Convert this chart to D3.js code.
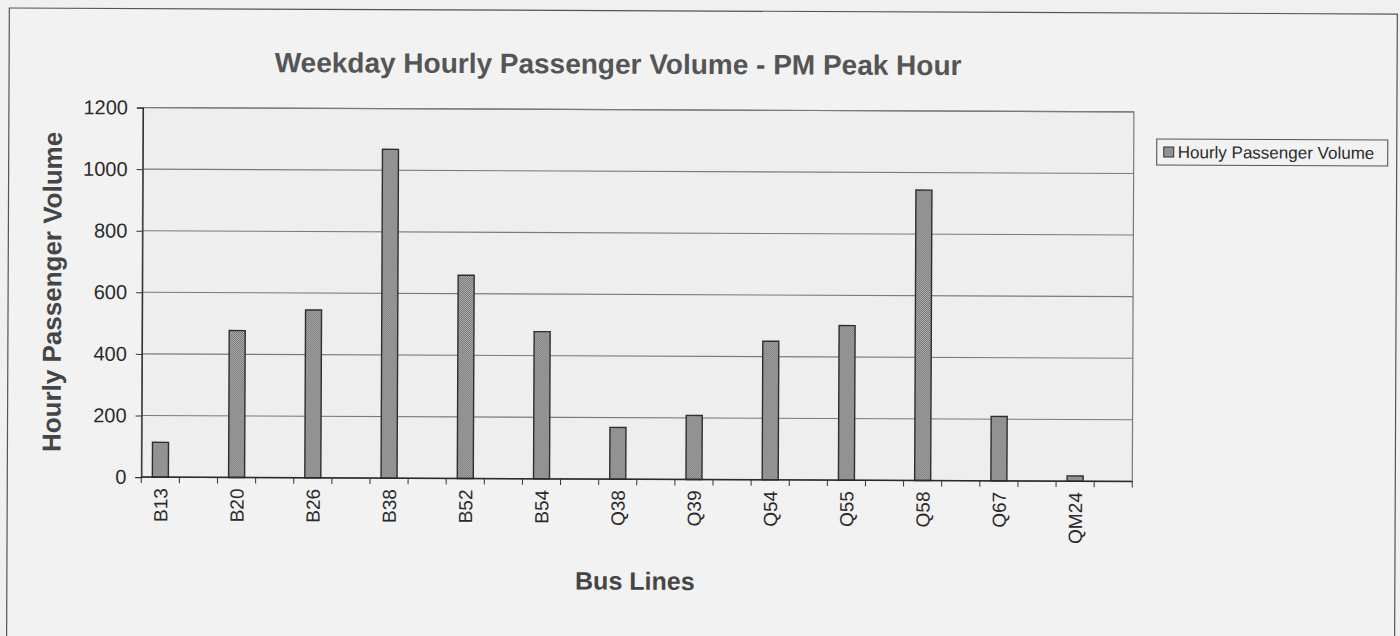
<!DOCTYPE html>
<html>
<head>
<meta charset="utf-8">
<script src="https://cdn.jsdelivr.net/npm/d3@7/dist/d3.min.js"></script>
<style>
  html, body { margin: 0; padding: 0; background: #f0f0f0; }
  svg { display: block; }
  text { font-family: Arial, "Liberation Sans", sans-serif; }
</style>
</head>
<body>
<svg id="chart" width="1400" height="636"></svg>
<script>
// Bus lines and their PM peak hourly passenger volumes
const busLines = ["B13", "B20", "B26", "B38", "B52", "B54", "Q38", "Q39", "Q54", "Q55", "Q58", "Q67", "QM24"];
const volumes = [113, 477, 545, 1068, 660, 478, 168, 208, 450, 502, 943, 209, 17];
const yTicks = [0, 200, 400, 600, 800, 1000, 1200];
const seriesName = "Hourly Passenger Volume";
const chartTitle = "Weekday Hourly Passenger Volume - PM Peak Hour";
const xTitle = "Bus Lines";
const yTitle = "Hourly Passenger Volume";

const svg = d3.select("#chart");
const plot = { left: 142, right: 1133, top: 110, bottom: 479.5 };

// slight page tilt of the printed sheet
const root = svg.append("g").attr("transform", "rotate(0.25, 700, 318)");

// halftone-like fill for the bars
const defs = svg.append("defs");
const pat = defs.append("pattern").attr("id", "dots")
  .attr("width", 2).attr("height", 2).attr("patternUnits", "userSpaceOnUse");
pat.append("rect").attr("width", 2).attr("height", 2).attr("fill", "#b0b0b0");
pat.append("rect").attr("width", 1).attr("height", 1).attr("fill", "#747474");
pat.append("rect").attr("x", 1).attr("y", 1).attr("width", 1).attr("height", 1).attr("fill", "#747474");

// outer chart frame
root.append("rect")
  .attr("x", 8).attr("y", 11).attr("width", 1388).attr("height", 640)
  .attr("fill", "#f2f2f2").attr("stroke", "#555").attr("stroke-width", 1.2);

// every line sits in its own slot with a blank slot after it
const slots = [];
busLines.forEach((b, i) => { slots.push(b); slots.push("gap" + i); });

const x = d3.scaleBand().domain(slots)
  .range([plot.left, plot.right]).paddingInner(0.58).paddingOuter(0.29);
const y = d3.scaleLinear().domain([0, 1200]).range([plot.bottom, plot.top]);

// plot area
root.append("rect")
  .attr("x", plot.left).attr("y", plot.top)
  .attr("width", plot.right - plot.left).attr("height", plot.bottom - plot.top)
  .attr("fill", "#eeeeee").attr("stroke", "#7a7a7a").attr("stroke-width", 1.2);

// horizontal gridlines
root.append("g").selectAll("line").data(yTicks.filter(t => t > 0)).join("line")
  .attr("x1", plot.left).attr("x2", plot.right)
  .attr("y1", d => y(d)).attr("y2", d => y(d))
  .attr("stroke", "#7a7a7a").attr("stroke-width", 1.1);

// y axis
const yAxis = root.append("g").attr("transform", `translate(${plot.left},0)`)
  .call(d3.axisLeft(y).tickValues(yTicks).tickSize(6).tickPadding(9).tickFormat(d3.format("d")));
yAxis.select(".domain").attr("stroke", "#333").attr("stroke-width", 1.3);
yAxis.selectAll(".tick line").attr("stroke", "#333");
yAxis.selectAll("text").attr("fill", "#2a2a2a").style("font-size", "20px");

// bars
root.append("g").selectAll("rect").data(busLines).join("rect")
  .attr("x", d => x(d))
  .attr("width", x.bandwidth())
  .attr("y", (d, i) => y(volumes[i]))
  .attr("height", (d, i) => y(0) - y(volumes[i]))
  .attr("fill", "url(#dots)")
  .attr("stroke", "#2e2e2e").attr("stroke-width", 1.4);

// x axis: baseline with ticks on slot boundaries
const step = x.step();
const boundaries = d3.range(slots.length + 1).map(k => plot.left + k * step);
root.append("line")
  .attr("x1", plot.left).attr("x2", plot.right)
  .attr("y1", y(0)).attr("y2", y(0))
  .attr("stroke", "#2a2a2a").attr("stroke-width", 1.5);
root.append("g").selectAll("line").data(boundaries).join("line")
  .attr("x1", d => d).attr("x2", d => d)
  .attr("y1", y(0)).attr("y2", y(0) + 6)
  .attr("stroke", "#333").attr("stroke-width", 1);

// category labels, rotated
root.append("g").selectAll("text").data(busLines).join("text")
  .attr("transform", d => `translate(${x(d) + x.bandwidth() / 2 + 7},${y(0) + 11}) rotate(-90)`)
  .attr("text-anchor", "end")
  .attr("fill", "#2a2a2a")
  .style("font-size", "19px")
  .text(d => d);

// titles
root.append("text")
  .attr("x", 617).attr("y", 74)
  .attr("text-anchor", "middle")
  .attr("fill", "#555")
  .style("font-size", "28px").style("font-weight", "bold")
  .text(chartTitle);

root.append("text")
  .attr("x", 636).attr("y", 590)
  .attr("text-anchor", "middle")
  .attr("fill", "#454545")
  .style("font-size", "25px").style("font-weight", "bold")
  .text(xTitle);

root.append("text")
  .attr("transform", `translate(61,${(plot.top + plot.bottom) / 2}) rotate(-90)`)
  .attr("text-anchor", "middle")
  .attr("fill", "#454545")
  .style("font-size", "26px").style("font-weight", "bold")
  .text(yTitle);

// legend
const lg = root.append("g").attr("transform", "translate(1156,137)");
lg.append("rect").attr("width", 231).attr("height", 26)
  .attr("fill", "#f2f2f2").attr("stroke", "#555").attr("stroke-width", 1.1);
lg.append("rect").attr("x", 7).attr("y", 8).attr("width", 10).attr("height", 10)
  .attr("fill", "url(#dots)").attr("stroke", "#333").attr("stroke-width", 1);
lg.append("text").attr("x", 21).attr("y", 19)
  .attr("fill", "#2a2a2a").style("font-size", "17px")
  .text(seriesName);
</script>
</body>
</html>
